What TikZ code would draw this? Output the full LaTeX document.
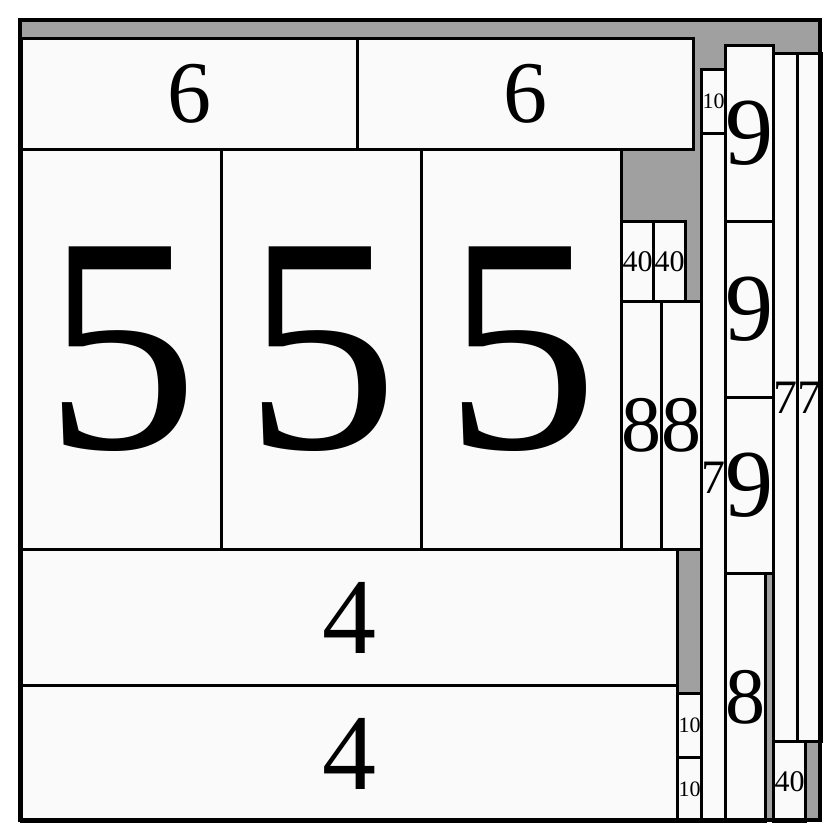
\documentclass[tikz,border=0pt]{standalone}
\usepackage{xcolor}
\usepackage{fontspec}
\setmainfont{Liberation Serif}
\usepackage{tikz}
\definecolor{binfill}{HTML}{A0A0A0}
\definecolor{itemfill}{HTML}{FAFAFA}
\newcommand{\digitsize}[1]{\fontsize{#1}{#1}\selectfont}

\begin{document}
\begin{tikzpicture}[
    x=1pt,y=-1pt,
    item/.style={draw,line width=3.2pt,fill=itemfill,inner sep=0pt,
        anchor=north west},
    ]
    \useasboundingbox (0,0) rectangle (840,840);
    % Bin background
    \fill[binfill] (20,20) rectangle (820,820);
    % Top row
    \node[item,minimum width=336,minimum height=111,font=\digitsize{88}]
        (sixA) at (20,37) {6};
    \node[item,minimum width=336,minimum height=111,font=\digitsize{88}]
        (sixB) at (356,37) {6};
    % Big squares
    \node[item,minimum width=200,minimum height=400,font=\digitsize{308}]
        (fiveA) at (20,148) {5};
    \node[item,minimum width=200,minimum height=400,font=\digitsize{308}]
        (fiveB) at (220,148) {5};
    \node[item,minimum width=200,minimum height=400,font=\digitsize{308}]
        (fiveC) at (420,148) {5};
    % Small pieces next to the squares
    \node[item,minimum width=32,minimum height=80,font=\digitsize{30}]
        (fortyA) at (620,220) {40};
    \node[item,minimum width=32,minimum height=80,font=\digitsize{30}]
        (fortyB) at (652,220) {40};
    \node[item,minimum width=40,minimum height=248,font=\digitsize{80}]
        (eightA) at (620,300) {8};
    \node[item,minimum width=40,minimum height=248,font=\digitsize{80}]
        (eightB) at (660,300) {8};
    % Bottom rows
    \node[item,minimum width=656,minimum height=136,font=\digitsize{108}]
        (fourA) at (20,548) {4};
    \node[item,minimum width=656,minimum height=136,font=\digitsize{108}]
        (fourB) at (20,684) {4};
    \node[item,minimum width=24,minimum height=64,font=\digitsize{22}]
        (tenA) at (676,692) {10};
    \node[item,minimum width=24,minimum height=64,font=\digitsize{22}]
        (tenB) at (676,756) {10};
    % Right columns
    \node[item,minimum width=24,minimum height=64,font=\digitsize{22}]
        (tenC) at (700,68) {10};
    \node[item,minimum width=24,minimum height=688,font=\digitsize{48}]
        (sevenA) at (700,132) {7};
    \node[item,minimum width=48,minimum height=176,font=\digitsize{96}]
        (nineA) at (724,44) {9};
    \node[item,minimum width=48,minimum height=176,font=\digitsize{96}]
        (nineB) at (724,220) {9};
    \node[item,minimum width=48,minimum height=176,font=\digitsize{96}]
        (nineC) at (724,396) {9};
    \node[item,minimum width=40,minimum height=248,font=\digitsize{80}]
        (eightC) at (724,572) {8};
    \node[item,minimum width=24,minimum height=688,font=\digitsize{48}]
        (sevenB) at (772,52) {7};
    \node[item,minimum width=24,minimum height=688,font=\digitsize{48}]
        (sevenC) at (796,52) {7};
    \node[item,minimum width=32,minimum height=80,font=\digitsize{30}]
        (fortyC) at (772,740) {40};
    % Bin border
    \draw[line width=3.2pt] (20,20) rectangle (820,820);
\end{tikzpicture}
\end{document}
